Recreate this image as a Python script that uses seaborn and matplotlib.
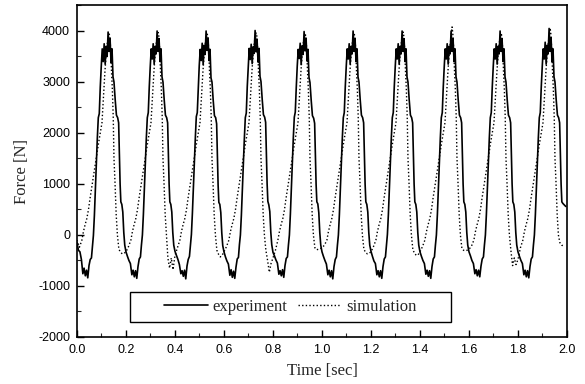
import numpy as np
import pandas as pd
import matplotlib
matplotlib.use("Agg")
import matplotlib.pyplot as plt
from matplotlib.patches import Rectangle
from matplotlib.lines import Line2D
import seaborn as sns

# ---------------- data ----------------
cycle_starts = [0.0, 0.2, 0.4, 0.6, 0.8, 1.0, 1.2, 1.4, 1.6, 1.8]

exp_offsets = [0.000, 0.006, 0.012, 0.018, 0.024, 0.029, 0.034, 0.039, 0.044, 0.049,
               0.054, 0.059, 0.063, 0.067, 0.071, 0.075, 0.079, 0.083, 0.087, 0.091,
               0.095, 0.099, 0.103, 0.107, 0.111, 0.115, 0.119, 0.123, 0.127, 0.131,
               0.135, 0.139, 0.143, 0.147, 0.151, 0.156, 0.161, 0.166, 0.170, 0.173,
               0.176, 0.179, 0.183, 0.187, 0.191, 0.195]

exp_values = [
    [-150, -300, -330, -480, -760, -650, -800, -690, -840, -600, -480, -450, -220, -10, 380, 900, 1400, 1900, 2300, 2380, 2900, 3300, 3650, 3400, 3750, 3350, 3700, 3500, 3980, 3600, 3850, 3380, 3650, 3100, 3000, 2650, 2350, 2300, 2200, 1600, 1000, 650, 600, 450, 50, -200],
    [-330, -420, -500, -560, -780, -690, -820, -700, -850, -620, -470, -430, -200, 0, 400, 900, 1400, 1900, 2300, 2400, 2900, 3300, 3650, 3450, 3750, 3350, 3700, 3550, 4000, 3600, 3850, 3400, 3650, 3100, 3000, 2650, 2350, 2300, 2200, 1600, 1000, 650, 600, 450, 50, -200],
    [-320, -400, -480, -580, -760, -700, -810, -690, -860, -610, -480, -420, -210, 10, 420, 920, 1420, 1900, 2320, 2400, 2880, 3320, 3640, 3420, 3760, 3340, 3720, 3540, 4000, 3620, 3860, 3420, 3640, 3080, 3000, 2640, 2340, 2300, 2180, 1620, 980, 640, 600, 440, 40, -210],
    [-330, -430, -510, -570, -790, -680, -830, -710, -850, -630, -470, -440, -190, 0, 390, 890, 1390, 1880, 2300, 2390, 2910, 3290, 3660, 3440, 3740, 3360, 3690, 3560, 4010, 3590, 3840, 3390, 3660, 3110, 3010, 2660, 2360, 2310, 2210, 1590, 1010, 660, 590, 460, 60, -190],
    [-340, -410, -490, -550, -770, -700, -800, -680, -830, -600, -460, -430, -200, 0, 410, 910, 1410, 1910, 2310, 2410, 2890, 3310, 3640, 3460, 3760, 3340, 3710, 3540, 3990, 3610, 3860, 3410, 3640, 3090, 2990, 2640, 2340, 2290, 2190, 1610, 990, 650, 610, 440, 50, -200],
    [-330, -420, -500, -570, -780, -690, -820, -700, -860, -620, -480, -430, -200, 0, 400, 900, 1400, 1900, 2300, 2400, 2900, 3300, 3650, 3450, 3750, 3350, 3700, 3550, 4000, 3600, 3850, 3400, 3650, 3100, 3000, 2650, 2350, 2300, 2200, 1600, 1000, 650, 600, 450, 50, -200],
    [-320, -420, -510, -560, -780, -700, -820, -700, -850, -620, -470, -430, -200, 10, 400, 900, 1400, 1900, 2300, 2400, 2900, 3300, 3650, 3450, 3750, 3350, 3700, 3550, 4000, 3600, 3850, 3400, 3650, 3100, 3000, 2650, 2350, 2300, 2200, 1600, 1000, 650, 600, 450, 50, -200],
    [-330, -420, -500, -560, -770, -690, -810, -700, -850, -620, -470, -430, -200, 0, 400, 900, 1400, 1900, 2300, 2400, 2900, 3300, 3650, 3450, 3750, 3350, 3700, 3550, 4000, 3600, 3850, 3400, 3650, 3100, 3000, 2650, 2350, 2300, 2200, 1600, 1000, 650, 600, 450, 50, -200],
    [-330, -410, -500, -560, -760, -680, -800, -690, -820, -610, -470, -430, -200, 0, 400, 900, 1400, 1900, 2300, 2400, 2900, 3300, 3650, 3450, 3750, 3350, 3700, 3550, 4000, 3600, 3850, 3400, 3650, 3100, 3000, 2650, 2350, 2300, 2200, 1600, 1000, 650, 600, 450, 50, -200],
    [-330, -420, -500, -560, -780, -690, -820, -700, -840, -620, -470, -430, -200, 0, 400, 900, 1400, 1900, 2300, 2400, 2900, 3300, 3650, 3450, 3780, 3350, 3720, 3550, 4050, 3600, 3870, 3400, 3650, 3100, 3000, 2650, 2350, 2300, 2200, 1600, 1000, 650, 620, 600, 580, 560],
]

sim_offsets = [0.000, 0.010, 0.020, 0.026, 0.033, 0.040, 0.047, 0.053, 0.060, 0.067,
               0.074, 0.080, 0.088, 0.095, 0.102, 0.108, 0.114, 0.120, 0.126, 0.131,
               0.134, 0.138, 0.141, 0.144, 0.148, 0.151, 0.155, 0.160, 0.165, 0.171,
               0.178, 0.185, 0.192]

sim_values = [
    [-100, -240, -100, 60, 200, 320, 500, 710, 930, 1160, 1380, 1560, 1800, 2000, 2200, 2700, 3200, 3600, 3850, 3950, 3900, 3600, 3200, 2900, 2300, 1500, 1050, 400, 0, -280, -340, -370, -360],
    [-330, -230, -100, 60, 200, 320, 500, 710, 930, 1160, 1380, 1560, 1800, 2000, 2200, 2700, 3200, 3600, 3850, 3970, 3900, 3600, 3200, 2900, 2300, 1500, 1050, 400, 0, -450, -650, -450, -680],
    [-400, -250, -100, 60, 200, 320, 500, 710, 930, 1160, 1380, 1560, 1800, 2000, 2200, 2700, 3200, 3600, 3850, 3950, 3900, 3600, 3200, 2900, 2300, 1500, 1050, 400, 0, -300, -380, -430, -400],
    [-330, -230, -100, 60, 200, 320, 500, 710, 930, 1160, 1380, 1560, 1800, 2000, 2200, 2700, 3200, 3600, 3850, 3960, 3900, 3600, 3200, 2900, 2300, 1500, 1050, 400, 0, -300, -500, -730, -560],
    [-450, -300, -100, 60, 200, 320, 500, 710, 930, 1160, 1380, 1560, 1800, 2000, 2200, 2700, 3200, 3600, 3850, 3950, 3900, 3600, 3200, 2900, 2300, 1500, 1050, 400, 0, -250, -290, -280, -270],
    [-250, -200, -100, 60, 200, 320, 500, 710, 930, 1160, 1380, 1560, 1800, 2000, 2200, 2700, 3200, 3600, 3850, 3950, 3900, 3600, 3200, 2900, 2300, 1500, 1050, 400, 0, -280, -340, -370, -360],
    [-330, -230, -100, 60, 200, 320, 500, 710, 930, 1160, 1380, 1560, 1800, 2000, 2200, 2700, 3200, 3600, 3850, 3980, 3900, 3600, 3200, 2900, 2300, 1500, 1050, 400, 0, -290, -360, -400, -390],
    [-330, -230, -100, 60, 200, 320, 500, 710, 930, 1160, 1380, 1560, 1800, 2000, 2200, 2700, 3200, 3600, 3850, 4080, 3950, 3600, 3200, 2900, 2300, 1500, 1050, 400, 0, -260, -300, -310, -300],
    [-280, -220, -100, 60, 200, 320, 500, 710, 930, 1160, 1380, 1560, 1800, 2000, 2200, 2700, 3200, 3600, 3850, 3960, 3900, 3600, 3200, 2900, 2300, 1500, 1050, 400, 0, -300, -600, -450, -580],
    [-480, -250, -100, 60, 200, 320, 500, 710, 930, 1160, 1380, 1560, 1800, 2000, 2200, 2700, 3200, 3600, 3850, 4060, 3950, 3600, 3200, 2900, 2300, 1500, 1050, 400, 0, -150, -200, -210, -210],
]

x_ticks = [0.0, 0.2, 0.4, 0.6, 0.8, 1.0, 1.2, 1.4, 1.6, 1.8, 2.0]
x_tick_labels = ["0.0", "0.2", "0.4", "0.6", "0.8", "1.0", "1.2", "1.4", "1.6", "1.8", "2.0"]
y_ticks = [-2000, -1000, 0, 1000, 2000, 3000, 4000]
y_tick_labels = ["-2000", "-1000", "0", "1000", "2000", "3000", "4000"]

# ---------------- build tidy tables ----------------
rows = []
for start, vals in zip(cycle_starts, exp_values):
    for off, v in zip(exp_offsets, vals):
        rows.append({"t": start + off, "F": v, "series": "experiment"})
for start, vals in zip(cycle_starts, sim_values):
    for off, v in zip(sim_offsets, vals):
        rows.append({"t": start + off, "F": v, "series": "simulation"})
df = pd.DataFrame(rows)
df = df[df["t"] <= 1.998]

# ---------------- plot ----------------
sns.set_theme(style="ticks")
plt.rcParams["font.family"] = ["Liberation Sans", "DejaVu Sans"]

fig = plt.figure(figsize=(5.85, 3.84), dpi=100)
ax = fig.add_axes([0.1316, 0.1224, 0.8376, 0.8633])

sns.lineplot(data=df[df.series == "experiment"], x="t", y="F", ax=ax,
             color="black", linewidth=1.2, estimator=None, sort=True)
sns.lineplot(data=df[df.series == "simulation"], x="t", y="F", ax=ax,
             color="black", linewidth=1.0, linestyle=(0, (1, 1.6)),
             estimator=None, sort=True)

ax.set_xlim(0, 2.0)
ax.set_ylim(-2000, 4500)
ax.set_xticks(x_ticks)
ax.set_xticklabels(x_tick_labels)
ax.set_yticks(y_ticks)
ax.set_yticklabels(y_tick_labels)
ax.set_xticks(np.array(x_ticks[:-1]) + 0.1, minor=True)
ax.set_yticks(np.array(y_ticks) + 500, minor=True)
ax.tick_params(axis="both", which="major", direction="in", length=5, width=1.0,
               labelsize=9, colors="black", pad=5)
ax.tick_params(axis="both", which="minor", direction="in", length=3, width=0.8)
for lab in ax.get_xticklabels() + ax.get_yticklabels():
    lab.set_family(["Liberation Sans", "DejaVu Sans"])
for s in ax.spines.values():
    s.set_visible(True)
    s.set_color("black")
    s.set_linewidth(1.2)

serif = ["Liberation Serif", "DejaVu Serif"]
ax.set_xlabel("Time [sec]", fontsize=12, family=serif, labelpad=5)
ax.set_ylabel("Force [N]", fontsize=12, family=serif, labelpad=6)

# legend box
rect = Rectangle((0.108, 0.045), 0.655, 0.09, transform=ax.transAxes,
                 facecolor="white", edgecolor="black", linewidth=1.0, zorder=4)
ax.add_patch(rect)
handles = [Line2D([], [], color="black", linewidth=1.2),
           Line2D([], [], color="black", linewidth=1.0, linestyle=(0, (1, 1.6)))]
leg = ax.legend(handles, ["experiment", "simulation"], loc="center",
                bbox_to_anchor=(0.4355, 0.09), ncol=2, frameon=False,
                prop={"family": serif, "size": 12}, handlelength=2.6,
                handletextpad=0.3, columnspacing=0.6, borderpad=0.2)
leg.set_zorder(5)

fig.savefig("out.png", dpi=100)
